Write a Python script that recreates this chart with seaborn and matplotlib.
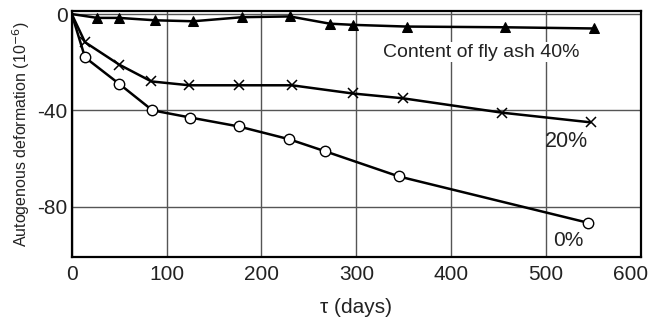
import matplotlib
matplotlib.use("Agg")
import matplotlib.pyplot as plt
import matplotlib.transforms as mtransforms
import seaborn as sns
import pandas as pd

# fly ash 40%
days_40 = [0, 27, 50, 88, 128, 180, 230, 272, 297, 353, 457, 551]
def_40 = [0, -1.6, -1.6, -2.6, -3.0, -1.3, -1.0, -4.0, -4.5, -5.2, -5.5, -6.0]

# fly ash 20%
days_20 = [0, 14, 50, 84, 124, 176, 232, 296, 349, 454, 547]
def_20 = [0, -11.7, -21, -28, -29.6, -29.6, -29.6, -33, -35, -41, -45]

# fly ash 0%
days_0 = [0, 14, 50, 85, 125, 176, 229, 267, 345, 544]
def_0 = [0, -18, -29, -40, -43, -46.7, -52, -57, -67.5, -86.7]

x_ticks = [0, 100, 200, 300, 400, 500, 600]
y_ticks = [0, -40, -80]
y_tick_labels = ["0", "-40", "-80"]

sns.set_theme(style="white")
plt.rcParams['font.family'] = ['Liberation Sans', 'DejaVu Sans']

fig, ax = plt.subplots(figsize=(6.52, 3.21), dpi=100)
fig.subplots_adjust(left=0.110, right=0.983, top=0.966, bottom=0.199)

df40 = pd.DataFrame({"t": days_40, "d": def_40})
df20 = pd.DataFrame({"t": days_20, "d": def_20})
df0 = pd.DataFrame({"t": days_0, "d": def_0})

sns.lineplot(data=df40, x="t", y="d", ax=ax, color="black", lw=1.8,
             marker="^", markersize=7.5, markeredgecolor="black", markerfacecolor="black",
             markevery=list(range(1, len(days_40))))
sns.lineplot(data=df20, x="t", y="d", ax=ax, color="black", lw=1.8,
             marker="x", markersize=7.5, markeredgewidth=1.1, markeredgecolor="black",
             markevery=list(range(1, len(days_20))))
sns.lineplot(data=df0, x="t", y="d", ax=ax, color="black", lw=1.8,
             marker="o", markersize=7.5, markeredgewidth=1.0, markeredgecolor="black",
             markerfacecolor="white", markevery=list(range(1, len(days_0))))

ax.set_xlim(0, 600)
ax.set_ylim(-101, 1.3)
ax.set_xticks(x_ticks)
ax.set_yticks(y_ticks)
ax.set_yticklabels(y_tick_labels)
ax.tick_params(axis="both", labelsize=15, length=0, colors="#222222")
ax.tick_params(axis="x", pad=6)
ax.tick_params(axis="y", pad=3)
# keep the last x label inside the figure, like the reference
last = ax.get_xticklabels()[-1]
last.set_transform(last.get_transform() + mtransforms.ScaledTranslation(-0.1, 0, fig.dpi_scale_trans))

ax.grid(True, color="#555555", lw=1.0)
for s in ax.spines.values():
    s.set_color("black")
    s.set_linewidth(1.6)

ax.set_xlabel("τ (days)", fontsize=15, color="#222222", labelpad=10)
ax.set_ylabel("Autogenous deformation (10$^{-6}$)", fontsize=11.5, color="#222222", labelpad=4)

ax.text(432, -15.8, "Content of fly ash 40%", fontsize=14, ha="center", va="center",
        color="#222222", bbox=dict(facecolor="white", edgecolor="none", pad=1))
ax.text(522, -53, "20%", fontsize=15.5, ha="center", va="center", color="#222222")
ax.text(523, -94, "0%", fontsize=15, ha="center", va="center", color="#222222")

fig.savefig("out.png", dpi=100)
